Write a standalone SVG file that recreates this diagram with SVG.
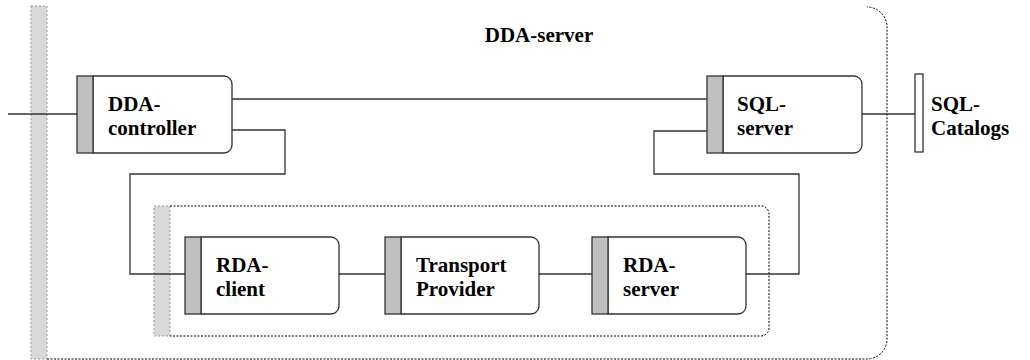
<svg xmlns="http://www.w3.org/2000/svg" width="1030" height="360" viewBox="0 0 1030 360">
<style>
.lbl{font-family:'Liberation Serif','Times New Roman',serif;font-weight:bold;font-size:21px;fill:#000}
.body{fill:#fff;stroke:#333;stroke-width:1.3}
.bar{fill:#c0c0c0;stroke:#333;stroke-width:1.3}
.cbar{fill:#d9d9d9;stroke:#999;stroke-width:1;stroke-dasharray:2 2}
.dot{fill:none;stroke:#000;stroke-width:1;stroke-dasharray:2 1.5}
.wire{fill:none;stroke:#333;stroke-width:1.3}
</style>
<rect width="1030" height="360" fill="#fff"/>
<g id="dda-server">
<rect class="cbar" x="31" y="6" width="16" height="353"/>
<path class="dot" d="M47 359 H867 A20 20 0 0 0 887 339 V27 A20 20 0 0 0 867 7"/>
<text class="lbl" x="539" y="42" text-anchor="middle">DDA-server</text>
</g>
<g id="rda-group">
<rect class="cbar" x="154" y="206" width="16" height="130"/>
<path class="dot" d="M170 206 H761 A8 8 0 0 1 769 214 V328 A8 8 0 0 1 761 336 H170"/>
</g>
<g id="connectors">
<path class="wire" d="M8 114 H77"/>
<path class="wire" d="M232 99 H707"/>
<path class="wire" d="M232 130 H285 V174 H130 V274 H185"/>
<path class="wire" d="M339 274 H385"/>
<path class="wire" d="M539 274 H592"/>
<path class="wire" d="M746 274 H799 V174 H654 V131 H707"/>
<path class="wire" d="M862 114 H915"/>
</g>
<g id="dda-controller">
<path class="body" d="M93 76 H224 A8 8 0 0 1 232 84 V145 A8 8 0 0 1 224 153 H93 Z"/>
<rect class="bar" x="77" y="76" width="16" height="77"/>
<text class="lbl" x="108" y="111">DDA-</text>
<text class="lbl" x="108" y="135">controller</text>
</g>
<g id="sql-server">
<path class="body" d="M723 76 H854 A8 8 0 0 1 862 84 V145 A8 8 0 0 1 854 153 H723 Z"/>
<rect class="bar" x="707" y="76" width="16" height="77"/>
<text class="lbl" x="737" y="111">SQL-</text>
<text class="lbl" x="737" y="135">server</text>
</g>
<g id="sql-catalogs">
<rect x="915" y="74" width="8" height="78" fill="#fff" stroke="#333" stroke-width="1.3"/>
<text class="lbl" x="931" y="111">SQL-</text>
<text class="lbl" x="931" y="135">Catalogs</text>
</g>
<g id="rda-client">
<path class="body" d="M201 237 H331 A8 8 0 0 1 339 245 V306 A8 8 0 0 1 331 314 H201 Z"/>
<rect class="bar" x="185" y="237" width="16" height="77"/>
<text class="lbl" x="216" y="272">RDA-</text>
<text class="lbl" x="216" y="296">client</text>
</g>
<g id="transport-provider">
<path class="body" d="M401 237 H531 A8 8 0 0 1 539 245 V306 A8 8 0 0 1 531 314 H401 Z"/>
<rect class="bar" x="385" y="237" width="16" height="77"/>
<text class="lbl" x="416" y="272">Transport</text>
<text class="lbl" x="416" y="296">Provider</text>
</g>
<g id="rda-server">
<path class="body" d="M608 237 H738 A8 8 0 0 1 746 245 V306 A8 8 0 0 1 738 314 H608 Z"/>
<rect class="bar" x="592" y="237" width="16" height="77"/>
<text class="lbl" x="623" y="272">RDA-</text>
<text class="lbl" x="623" y="296">server</text>
</g>
</svg>
